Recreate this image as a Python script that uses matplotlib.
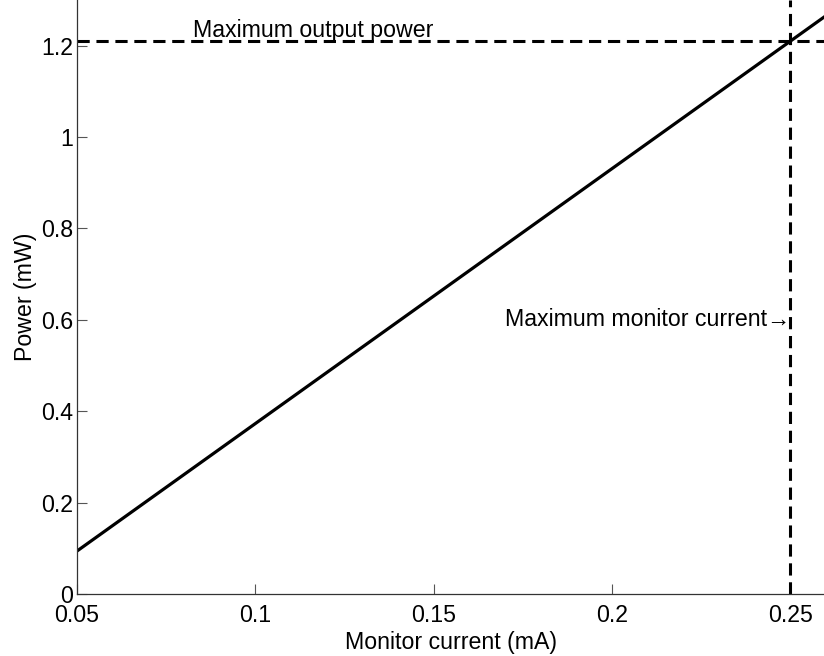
import matplotlib
matplotlib.use("Agg")
import matplotlib.pyplot as plt

plt.rcParams['font.family'] = ['Liberation Sans', 'DejaVu Sans']

# Data
current = [0.05, 0.26]            # Monitor current (mA)
power = [0.094, 1.2657]           # Power (mW)
max_power = 1.21
max_current = 0.25
xticks = [0.05, 0.1, 0.15, 0.2, 0.25]
xticklabels = ['0.05', '0.1', '0.15', '0.2', '0.25']
yticks = [0, 0.2, 0.4, 0.6, 0.8, 1.0, 1.2]
yticklabels = ['0', '0.2', '0.4', '0.6', '0.8', '1', '1.2']

FS = 16.7

fig = plt.figure(figsize=(8.24, 6.56), dpi=100)
ax = fig.add_axes([77/824, 62/656, (826-77)/824, 594/656])

ax.plot(current, power, color='black', lw=2.3, solid_capstyle='butt')
ax.axhline(max_power, color='black', lw=2.2, ls=(0, (4, 2.2)))
ax.axvline(max_current, color='black', lw=2.2, ls=(0, (4, 2.2)))

ax.text(0.0825, 1.218, 'Maximum output power', fontsize=FS, ha='left', va='baseline')
ax.text(max_current, 0.6, 'Maximum monitor current\u2192', fontsize=FS, ha='right', va='center')

ax.set_xlim(0.05, 0.26)
ax.set_ylim(0, 1.3)
ax.set_xticks(xticks)
ax.set_xticklabels(xticklabels)
ax.set_yticks(yticks)
ax.set_yticklabels(yticklabels)
ax.tick_params(direction='in', length=7, width=0.8, color='#555555', labelsize=FS)
ax.tick_params(axis='x', pad=7)
ax.tick_params(axis='y', pad=3)

for s in ['top', 'right']:
    ax.spines[s].set_visible(False)
for s in ['left', 'bottom']:
    ax.spines[s].set_color('#333333')
    ax.spines[s].set_linewidth(0.9)

ax.set_xlabel('Monitor current (mA)', fontsize=FS, labelpad=3)
ax.set_ylabel('Power (mW)', fontsize=FS, labelpad=3)

fig.savefig('out.png', dpi=100)
